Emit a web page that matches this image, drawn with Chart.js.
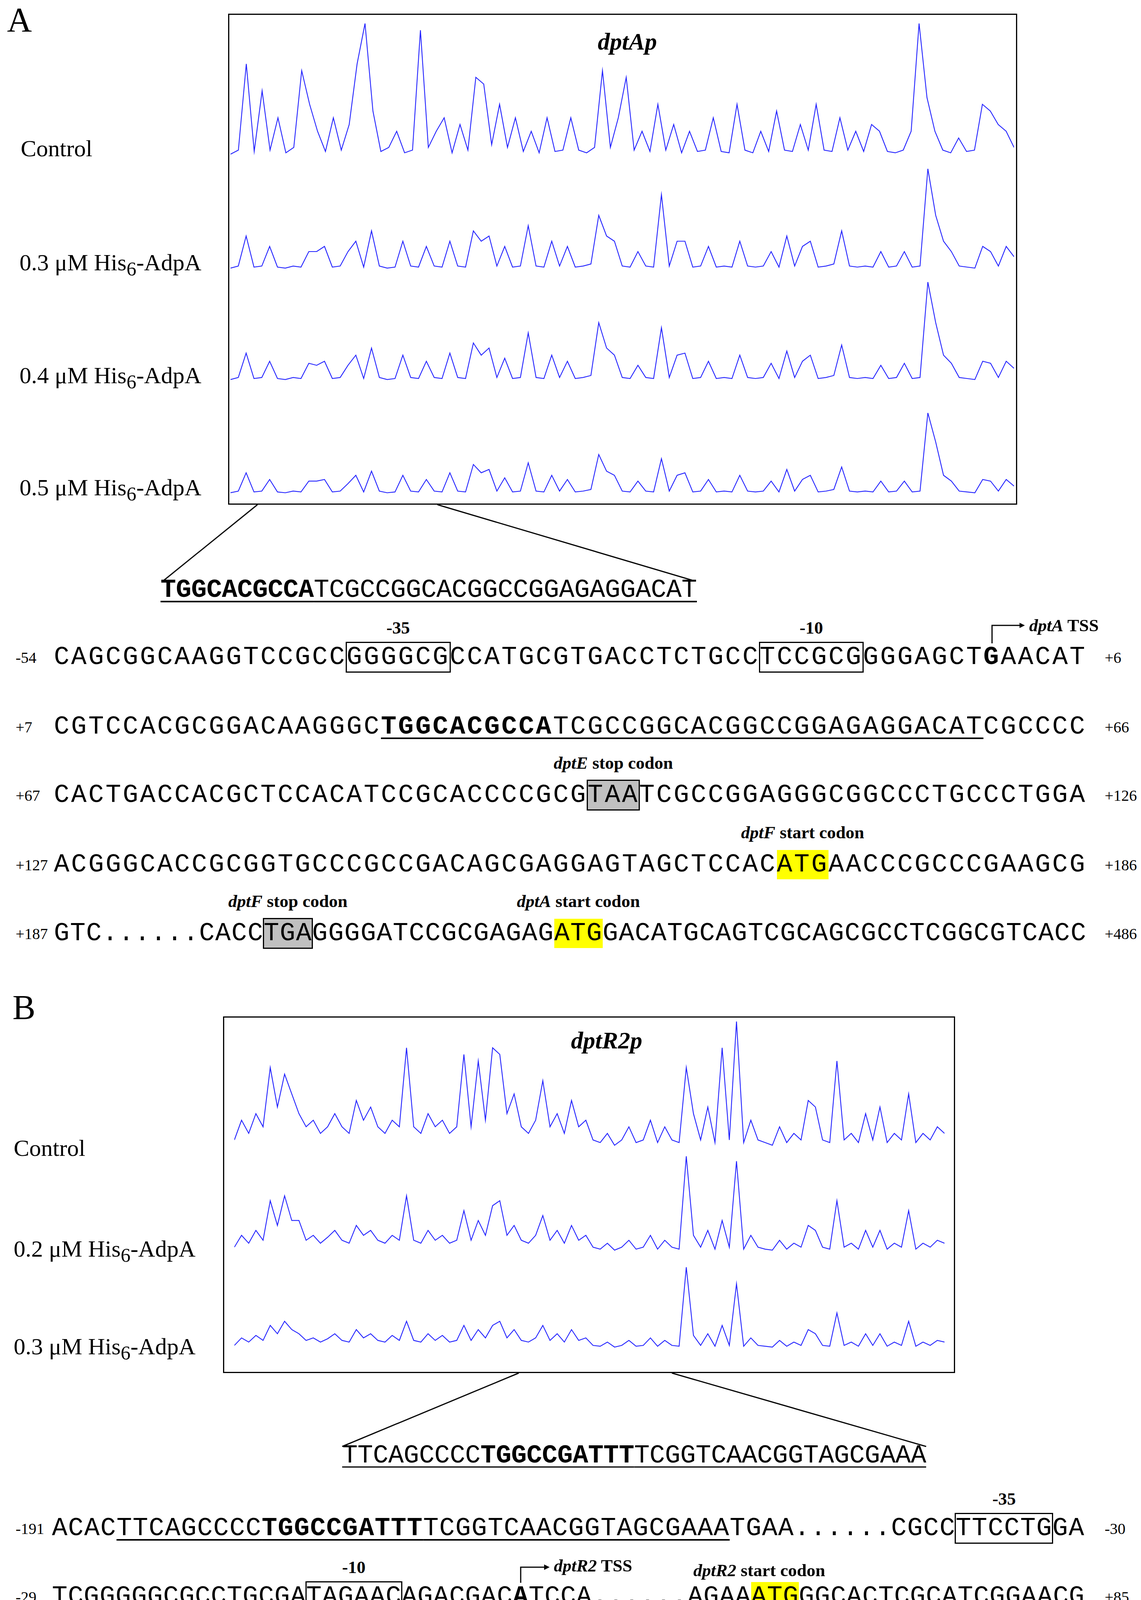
<!DOCTYPE html>
<html><head><meta charset="utf-8">
<script src="https://cdn.jsdelivr.net/npm/chart.js@4.4.0/dist/chart.umd.min.js"></script>
<style>
body{margin:0;width:2921px;height:4150px;background:#fff;position:relative;overflow:hidden;font-family:"Liberation Serif",serif;color:#000}
.abs{position:absolute;white-space:nowrap}
.box{position:absolute;border:3px solid #000;box-sizing:border-box}
.seq{position:absolute;white-space:nowrap;font-family:"Liberation Mono","Courier New",monospace;font-size:66px;line-height:1;transform:translateY(-50%)}
.lab{position:absolute;white-space:nowrap;font-size:60px;transform:translateY(-50%)}
.num{position:absolute;white-space:nowrap;font-size:40px;transform:translateY(-50%)}
.bi{font-weight:bold;font-style:italic}
.sb{position:absolute;white-space:nowrap;font-size:45px;font-weight:bold;transform:translate(-50%,-50%)}
.bx{outline:3px solid #000;outline-offset:-1px}
.gr{background:#c0c0c0;outline:3px solid #000;outline-offset:-1px}
.ye{background:#ffff00}
.u{text-decoration:underline;text-decoration-thickness:4px;text-underline-offset:10px}
b{font-weight:bold}
</style></head><body>
<script>
const traceA_control=[3,6,70,5,50,6,30,4,8,65,40,20,5,30,6,25,70,100,35,5,8,20,4,6,95,8,20,30,4,25,6,60,55,10,40,8,30,5,20,4,30,5,6,30,6,4,8,65,8,30,60,6,20,5,40,6,25,4,20,5,6,30,5,4,40,6,4,20,5,35,6,5,25,6,40,6,5,30,6,20,5,25,20,5,4,6,20,100,45,20,6,4,15,5,6,40,35,25,20,8];
const traceA_03=[4,6,35,5,6,25,5,4,6,5,20,20,25,5,6,20,30,5,40,6,4,5,30,6,5,25,6,5,30,6,5,40,30,35,6,25,5,6,45,6,5,30,6,25,5,6,8,55,35,30,6,5,20,6,5,75,6,30,30,5,6,25,5,6,5,30,6,5,6,20,5,35,6,25,30,5,6,8,40,6,5,6,5,20,5,6,20,5,6,100,55,30,20,6,5,4,25,20,6,25,15];
const traceA_04=[4,6,30,5,6,22,5,4,6,5,20,18,22,5,6,18,28,5,35,6,4,5,28,6,5,22,6,5,30,6,5,40,28,35,6,25,5,6,50,6,5,28,6,22,5,6,8,60,35,28,6,5,18,6,5,55,6,28,30,5,6,22,5,6,5,28,6,5,6,20,5,32,6,22,28,5,6,8,38,6,5,6,5,18,5,6,20,5,6,100,60,28,20,6,5,4,22,20,6,22,15];
const traceA_05=[4,6,28,5,6,20,5,4,6,5,18,18,20,5,6,15,25,5,30,6,4,5,25,6,5,20,6,5,28,6,5,38,28,32,6,22,5,6,40,6,5,25,6,20,5,6,8,50,30,25,6,5,18,6,5,45,6,25,28,5,6,20,5,6,5,25,6,5,6,18,5,32,6,20,25,5,6,8,35,6,5,6,5,18,5,6,18,5,6,100,65,25,18,6,5,4,20,18,6,20,12];
const traceB_control=[10,25,15,30,20,65,35,60,45,30,20,25,15,20,30,20,15,40,25,35,20,15,25,20,80,20,15,30,20,25,15,20,75,20,70,25,80,75,30,45,20,15,25,55,20,30,15,40,20,25,10,8,15,6,10,20,8,10,25,8,20,10,8,65,30,10,35,8,80,10,100,8,25,10,8,6,20,8,15,10,40,35,10,8,70,10,15,8,30,10,35,8,15,10,45,8,15,10,20,15];
const traceB_02=[8,20,12,25,15,55,30,60,35,35,15,20,12,18,25,15,12,30,20,25,15,12,20,15,60,15,12,25,15,20,12,15,45,15,35,20,50,55,20,30,15,12,20,40,15,25,12,30,15,20,8,6,12,5,8,15,6,8,20,6,15,8,6,100,20,8,25,6,35,8,95,6,20,8,6,5,15,6,12,8,30,25,8,6,55,8,12,6,25,8,25,6,12,8,45,6,12,8,15,12];
const traceB_03=[6,15,10,18,12,30,20,35,25,20,12,15,10,14,20,12,10,25,15,20,12,10,18,12,35,12,10,20,12,18,10,12,30,12,25,15,30,35,15,25,12,10,15,30,12,20,10,25,12,15,6,5,10,4,6,12,5,6,15,5,12,6,5,100,18,6,20,5,30,6,80,5,15,6,5,4,12,5,10,6,25,20,6,5,45,6,10,5,20,6,20,5,10,6,35,5,10,6,12,10];
const traceLabelsA=["Control","0.3 μM His<sub>6</sub>-AdpA","0.4 μM His<sub>6</sub>-AdpA","0.5 μM His<sub>6</sub>-AdpA"];
const traceLabelsB=["Control","0.2 μM His<sub>6</sub>-AdpA","0.3 μM His<sub>6</sub>-AdpA"];

function el(html){const d=document.createElement('div');d.innerHTML=html;const e=d.firstElementChild;document.body.appendChild(e);return e;}
function trace(data,x,y,w,h){
  const c=document.createElement('canvas');c.width=w;c.height=h;c.style.cssText=`position:absolute;left:${x}px;top:${y}px;width:${w}px;height:${h}px`;
  document.body.appendChild(c);
  new Chart(c,{type:'line',data:{labels:data.map((_,i)=>i),datasets:[{data,borderColor:'#2323ff',borderWidth:2.2,pointRadius:0,tension:0,fill:false}]},
   options:{responsive:false,animation:false,devicePixelRatio:1,layout:{padding:0},plugins:{legend:{display:false},tooltip:{enabled:false}},
   scales:{x:{display:false,offset:false},y:{display:false,min:0,max:100}}}});
}
// Panel A
el('<div class="abs" style="left:18px;top:0px;font-size:88px">A</div>');
el('<div class="box" style="left:584px;top:35px;width:2020px;height:1257px"></div>');
el('<div class="abs bi" style="left:1606px;top:106px;font-size:62px;transform:translate(-50%,-50%)">dptAp</div>');
trace(traceA_control,590,60,2006,345);
trace(traceA_03,590,432,2006,265);
trace(traceA_04,590,722,2006,260);
trace(traceA_05,590,1057,2006,213);
[380,677,966,1253].forEach((y,i)=>el(`<div class="lab" style="left:${i?50:53}px;top:${y}px">${traceLabelsA[i]}</div>`));
// Panel B
el('<div class="abs" style="left:32px;top:2528px;font-size:88px">B</div>');
el('<div class="box" style="left:571px;top:2602px;width:1874px;height:913px"></div>');
el('<div class="abs bi" style="left:1553px;top:2663px;font-size:62px;transform:translate(-50%,-50%)">dptR2p</div>');
trace(traceB_control,600,2615,1818,337);
trace(traceB_02,600,2960,1818,253);
trace(traceB_03,600,3244,1818,213);
[2939,3202,3452].forEach((y,i)=>el(`<div class="lab" style="left:35px;top:${y}px">${traceLabelsB[i]}</div>`));

const seqs=[
 ['<b class="u">TGGCACGCCA</b><span class="u">TCGCCGGCACGGCCGGAGAGGACAT</span>',411,1784,1511],
 ['CAGCGGCAAGGTCCGCC<span class="bx" id="m35a">GGGGCG</span>CCATGCGTGACCTCTGCC<span class="bx" id="m10a">TCCGCG</span>GGGAGCT<b id="tssa">G</b>AACAT',138,2782,1683],
 ['CGTCCACGCGGACAAGGGC<b class="u">TGGCACGCCA</b><span class="u">TCGCCGGCACGGCCGGAGAGGACAT</span>CGCCCC',138,2782,1861],
 ['CACTGACCACGCTCCACATCCGCACCCCGCG<span class="gr" id="es">TAA</span>TCGCCGGAGGGCGGCCCTGCCCTGGA',138,2782,2036],
 ['ACGGGCACCGCGGTGCCCGCCGACAGCGAGGAGTAGCTCCAC<span class="ye" id="fs">ATG</span>AACCCGCCCGAAGCG',138,2782,2214],
 ['GTC......CACC<span class="gr" id="ft">TGA</span>GGGGATCCGCGAGAG<span class="ye" id="as">ATG</span>GACATGCAGTCGCAGCGCCTCGGCGTCACC',138,2782,2390],
 ['<span>TTCAGCCCC<b>TGGCCGATTT</b>TCGGTCAACGGTAGCGAAA</span>',876,2371,3727],
 ['ACAC<span class="u">TTCAGCCCC<b>TGGCCGATTT</b>TCGGTCAACGGTAGCGAAA</span>TGAA......CGCC<span class="bx" id="m35b">TTCCTG</span>GA',133,2777,3913],
 ['TCGGGGGCGCCTGCGA<span class="bx" id="m10b">TAGAAC</span>AGACGAC<b id="tssb">A</b>TCCA......AGAA<span class="ye" id="r2s">ATG</span>GGCACTCGCATCGGAACG',133,2777,4088]
];
seqs.forEach(([h,l,r,y],k)=>{
  const e=el(`<div class="seq" style="left:${l}px;top:${y}px">${h}</div>`);
  if(k==6){e.style.textDecoration='underline';e.style.textDecorationThickness='3px';e.style.textUnderlineOffset='10px';}
  const n=e.textContent.length, w=e.getBoundingClientRect().width;
  e.style.letterSpacing=((r-l-w)/n)+'px';
});
const nums=[['-54','+6',1683],['+7','+66',1861],['+67','+126',2036],['+127','+186',2214],['+187','+486',2390],['-191','-30',3913],['-29','+85',4088]];
nums.forEach(([a,b,y])=>{el(`<div class="num" style="left:40px;top:${y}px">${a}</div>`);el(`<div class="num" style="left:2828px;top:${y}px">${b}</div>`);});
function above(id,html,dy){const r=document.getElementById(id).getBoundingClientRect();el(`<div class="sb" style="left:${(r.left+r.right)/2}px;top:${r.top-dy}px">${html}</div>`);}
above('m35a','-35',38);above('m10a','-10',38);
above('es','<i>dptE</i> stop codon',45);above('fs','<i>dptF</i> start codon',45);
above('ft','<i>dptF</i> stop codon',45);above('as','<i>dptA</i> start codon',45);
above('m35b','-35',38);above('m10b','-10',38);
const ta=document.getElementById('tssa').getBoundingClientRect(), tb=document.getElementById('tssb').getBoundingClientRect();
const ra=document.getElementById('r2s').getBoundingClientRect();
const xa=(ta.left+ta.right)/2, xb=(tb.left+tb.right)/2;
document.body.insertAdjacentHTML('beforeend',`<svg style="position:absolute;left:0;top:0" width="2921" height="4150">
<defs><marker id="ar" markerWidth="14" markerHeight="14" refX="10" refY="7" orient="auto" markerUnits="userSpaceOnUse" viewBox="0 0 14 14"><path d="M0,0L14,7L0,14z" fill="#000"/></marker></defs>
<g stroke="#000" stroke-width="3" fill="none">
<line x1="659" y1="1292" x2="419" y2="1486"/><line x1="1120" y1="1292" x2="1774" y2="1486"/>
<line x1="1328" y1="3515" x2="876" y2="3703"/><line x1="1720" y1="3515" x2="2371" y2="3703"/>
<path d="M${xa},${ta.top+2}V1601H${xa+80}" marker-end="url(#ar)"/>
<path d="M${xb},${tb.top+2}V4012H${xb+70}" marker-end="url(#ar)"/>
</g></svg>`);
el(`<div class="sb" style="left:${xa+95}px;top:1601px;transform:translate(0,-50%)"><i>dptA</i> TSS</div>`);
el(`<div class="sb" style="left:${xb+85}px;top:4008px;transform:translate(0,-50%)"><i>dptR2</i> TSS</div>`);
el(`<div class="sb" style="left:${(ra.left+ra.right)/2-40}px;top:4020px"><i>dptR2</i> start codon</div>`);
</script>
</body></html>
